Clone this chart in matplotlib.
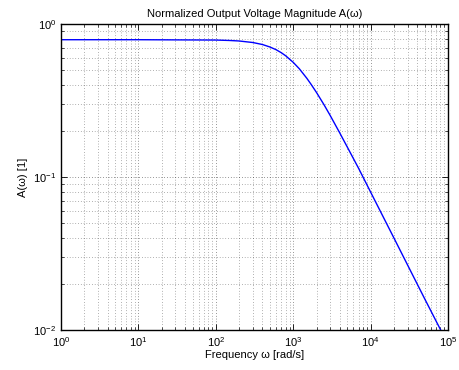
import matplotlib
matplotlib.use("Agg")
import matplotlib.pyplot as plt
from matplotlib.ticker import LogLocator

plt.rcParams['font.family'] = ['Liberation Sans', 'DejaVu Sans']
plt.rcParams['mathtext.fontset'] = 'custom'
plt.rcParams['mathtext.rm'] = 'Liberation Sans'
plt.rcParams['mathtext.it'] = 'Liberation Sans'

# Data
omega = [1, 10, 100, 150, 200, 300, 400, 500, 600, 700, 800, 1000, 1200, 1500,
         1700, 2000, 2500, 3000, 4000, 5000, 7000, 10000, 20000, 50000, 80500]
amplitude = [0.79, 0.79, 0.786, 0.781, 0.775, 0.7575, 0.735, 0.708, 0.680,
             0.650, 0.620, 0.562, 0.510, 0.442, 0.404, 0.357, 0.297, 0.253,
             0.194, 0.157, 0.114, 0.0798, 0.0400, 0.0160, 0.0100]

title = "Normalized Output Voltage Magnitude A(ω)"
xlabel = "Frequency ω [rad/s]"
ylabel = "A(ω) [1]"

fig = plt.figure(figsize=(4.59, 3.70), dpi=100)
ax = fig.add_axes([0.133, 0.108, 0.843, 0.827])
ax.loglog(omega, amplitude, color='#0000ff', linewidth=1.0)
ax.set_xlim(1, 1e5)
ax.set_ylim(0.01, 1)

ax.xaxis.set_major_locator(LogLocator(base=10, numticks=10))
ax.yaxis.set_major_locator(LogLocator(base=10, numticks=10))
ax.xaxis.set_minor_locator(LogLocator(base=10, subs=range(2, 10), numticks=20))
ax.yaxis.set_minor_locator(LogLocator(base=10, subs=range(2, 10), numticks=20))

ax.grid(True, which='major', linestyle=(0, (1, 3)), color='black', linewidth=0.5, alpha=0.8)
ax.grid(True, which='minor', linestyle=(0, (1, 3)), color='black', linewidth=0.5, alpha=0.6)

ax.tick_params(which='both', direction='in', top=True, right=True, labelsize=8)
ax.tick_params(which='major', length=4, width=0.6)
ax.tick_params(which='minor', length=2, width=0.5)
for s in ax.spines.values():
    s.set_linewidth(1.0)

ax.set_title(title, fontsize=8, pad=5)
ax.set_xlabel(xlabel, fontsize=8, labelpad=1)
ax.set_ylabel(ylabel, fontsize=8, labelpad=4)

fig.savefig("out.png", dpi=100)
